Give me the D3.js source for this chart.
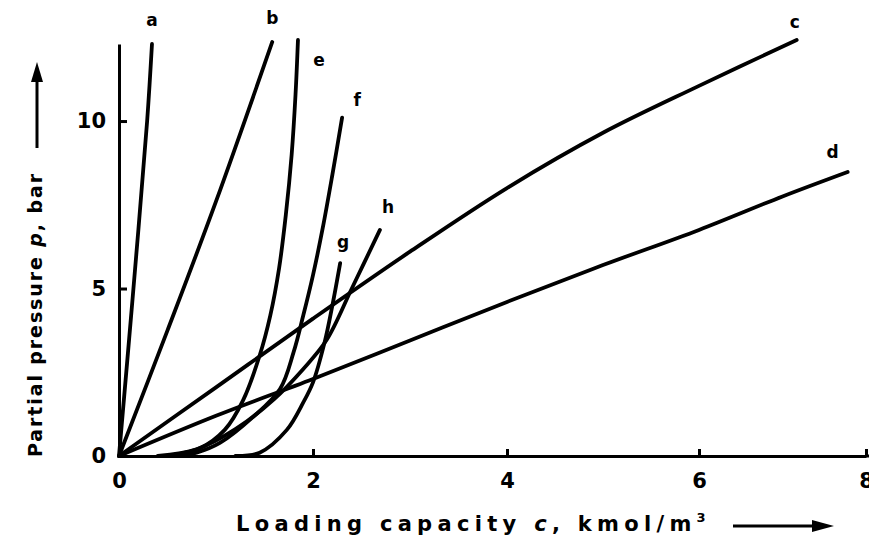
<!DOCTYPE html>
<html>
<head>
<meta charset="utf-8">
<script src="https://cdn.jsdelivr.net/npm/d3@7"></script>
<style>
  body { margin: 0; background: #fff; }
  text { font-family: "DejaVu Sans", sans-serif; font-weight: bold; fill: #000; }
  .curve { fill: none; stroke: #000; stroke-width: 3.8; stroke-linecap: round; stroke-linejoin: round; }
  .axis path, .axis line { stroke: #000; stroke-width: 3; }
  .axis text { font-size: 21px; }
</style>
</head>
<body>
<div class="chart"></div>
<script>
// partial pressure vs loading capacity, curves a-h

var curveNames = ["a", "b", "c", "d", "e", "f", "g", "h"];

var curveA = [[0, 0], [0.14, 4.7], [0.29, 10], [0.34, 12.3]];
var curveB = [[0, 0], [0.5, 3.75], [1.0, 7.6], [1.58, 12.36]];
var curveC = [[0, 0], [1, 2.05], [2, 4.1], [3, 6.1], [4, 8.0], [5, 9.65], [6, 11.05], [7.17, 12.42]];
var curveD = [[0, 0], [1, 1.2], [2, 2.3], [3, 3.45], [4, 4.6], [5, 5.7], [6, 6.75], [7, 7.75], [7.78, 8.48]];
var curveE = [[0.5, 0], [0.84, 0.24], [1.09, 0.78], [1.28, 1.67], [1.45, 3.0], [1.56, 4.2], [1.65, 5.6], [1.72, 7.2], [1.78, 9.0], [1.82, 10.8], [1.845, 12.42]];
var curveF = [[0.6, 0], [0.8, 0.1], [1.04, 0.39], [1.38, 1.16], [1.66, 2.0], [1.8, 3.1], [1.9, 4.2], [2.0, 5.4], [2.1, 6.8], [2.2, 8.4], [2.3, 10.1]];
var curveG = [[1.2, 0], [1.45, 0.1], [1.73, 0.78], [1.9, 1.6], [2.0, 2.2], [2.12, 3.4], [2.2, 4.5], [2.28, 5.76]];
var curveH = [[0.4, 0], [0.8, 0.2], [1.2, 0.8], [1.6, 1.7], [1.9, 2.6], [2.14, 3.46], [2.4, 5.0], [2.69, 6.75]];

var xTicks = [0, 2, 4, 6, 8];
var yTicks = [0, 5, 10];

var curves = [curveA, curveB, curveC, curveD, curveE, curveF, curveG, curveH];

// label offset from the curve end, px
var labelOffset = {
  a: [0, -24], b: [0, -24], c: [-2, -18], d: [-15, -20],
  e: [21, 20], f: [15, -18], g: [3, -21], h: [8, -23]
};

var width = 869, height = 541;

/* scales (the scan is a little stretched, so x is piecewise) */
var x = d3.scaleLinear().domain([0, 2, 4, 6, 8]).range([119, 313, 507, 699, 866]);
var y = d3.scaleLinear().domain([0, 12.3]).range([456, 44]);

var svg = d3.select(".chart").append("svg")
    .attr("width", width)
    .attr("height", height);

// x axis, ticks pointing in
svg.append("g")
    .attr("class", "axis")
    .attr("transform", "translate(0," + y(0) + ")")
    .call(d3.axisBottom(x).tickValues(xTicks).tickSize(-7).tickSizeOuter(0).tickPadding(17)
      .tickFormat(d3.format("d")));

svg.append("line")
    .attr("x1", x(8)).attr("x2", width)
    .attr("y1", y(0)).attr("y2", y(0))
    .attr("stroke", "#000").attr("stroke-width", 3);

// y axis
svg.append("g")
    .attr("class", "axis")
    .attr("transform", "translate(" + x(0) + ",0)")
    .call(d3.axisLeft(y).tickValues(yTicks).tickSize(-8).tickSizeOuter(0).tickPadding(13)
      .tickFormat(d3.format("d")));

svg.selectAll(".axis .tick").filter(function(d) { return d === 0; }).select("line").remove();

/* curves */
var line = d3.line()
    .x(function(d) { return x(d[0]); })
    .y(function(d) { return y(d[1]); })
    .curve(d3.curveCatmullRom.alpha(0.5));

svg.selectAll(".curve")
    .data(curves)
    .enter().append("path")
    .attr("class", "curve")
    .attr("d", line);

svg.selectAll(".lbl")
    .data(curves)
    .enter().append("text")
    .attr("class", "lbl")
    .attr("text-anchor", "middle")
    .attr("font-size", 17)
    .attr("x", function(d, i) { return x(d[d.length - 1][0]) + labelOffset[curveNames[i]][0]; })
    .attr("y", function(d, i) { return y(d[d.length - 1][1]) + labelOffset[curveNames[i]][1] + 6; })
    .text(function(d, i) { return curveNames[i]; });

/* axis titles */
var xt = svg.append("text")
    .attr("x", 236)
    .attr("y", 531)
    .attr("font-size", 21)
    .attr("letter-spacing", 5.3);
xt.append("tspan").text("Loading capacity  ");
xt.append("tspan").attr("font-style", "italic").text("c");
xt.append("tspan").text(",  kmol/m");
xt.append("tspan").attr("font-size", 13).attr("dy", -9).text("3");

svg.append("line")
    .attr("x1", 733).attr("x2", 822)
    .attr("y1", 526).attr("y2", 526)
    .attr("stroke", "#000").attr("stroke-width", 3);
svg.append("path")
    .attr("d", "M812,520 L834,526 L812,532 Z")
    .attr("fill", "#000");

var yt = svg.append("text")
    .attr("transform", "translate(42,457) rotate(-90)")
    .attr("font-size", 19)
    .attr("letter-spacing", 1.9);
yt.append("tspan").text("Partial pressure  ");
yt.append("tspan").attr("font-style", "italic").text("p");
yt.append("tspan").text(",  bar");

svg.append("line")
    .attr("x1", 37).attr("x2", 37)
    .attr("y1", 148).attr("y2", 78)
    .attr("stroke", "#000").attr("stroke-width", 3);
svg.append("path")
    .attr("d", "M31,82 L37,62 L43,82 Z")
    .attr("fill", "#000");
</script>
</body>
</html>
